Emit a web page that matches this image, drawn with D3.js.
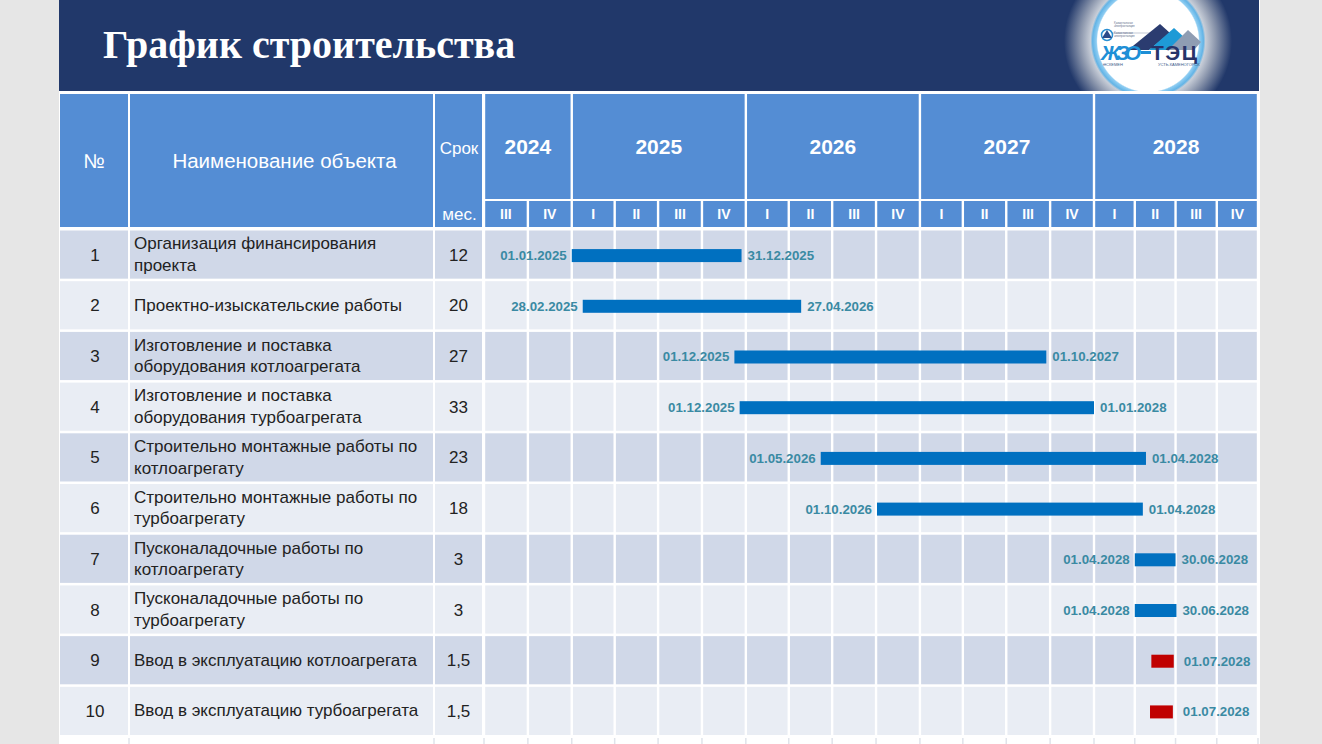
<!DOCTYPE html>
<html><head><meta charset="utf-8">
<script src="https://cdn.jsdelivr.net/npm/d3@7"></script>
<style>
html,body{margin:0;padding:0;background:#e6e6e6;overflow:hidden}
svg{display:block}
</style></head>
<body>
<script>
// ---------------- DATA ----------------
const titleText = "График строительства";
const years = [2024, 2025, 2026, 2027, 2028];
const quarterLabels = ["I", "II", "III", "IV"];
const rowNumbers = ["1","2","3","4","5","6","7","8","9","10"];
const taskNames = [
  ["Организация финансирования", "проекта"],
  ["Проектно-изыскательские работы"],
  ["Изготовление и поставка", "оборудования котлоагрегата"],
  ["Изготовление и поставка", "оборудования турбоагрегата"],
  ["Строительно монтажные работы по", "котлоагрегату"],
  ["Строительно монтажные работы по", "турбоагрегату"],
  ["Пусконаладочные работы по", "котлоагрегату"],
  ["Пусконаладочные работы по", "турбоагрегату"],
  ["Ввод в эксплуатацию котлоагрегата"],
  ["Ввод в эксплуатацию турбоагрегата"]
];
const durations = ["12","20","27","33","23","18","3","3","1,5","1,5"];
// bar extents as drawn in the picture
const barStart = ["2025-01-01","2025-01-24","2025-12-08","2025-12-19","2026-06-07","2026-10-03","2028-04-01","2028-04-01","2028-05-08","2028-05-05"];
const barEnd   = ["2025-12-23","2026-04-27","2027-09-23","2028-01-01","2028-04-26","2028-04-19","2028-07-01","2028-07-03","2028-06-27","2028-06-25"];
const startLabels = ["01.01.2025","28.02.2025","01.12.2025","01.12.2025","01.05.2026","01.10.2026","01.04.2028","01.04.2028","",""];
const endLabels   = ["31.12.2025","27.04.2026","01.10.2027","01.01.2028","01.04.2028","01.04.2028","30.06.2028","30.06.2028","01.07.2028","01.07.2028"];
const barKind = ["work","work","work","work","work","work","work","work","launch","launch"];
const headerNo = "№", headerName = "Наименование объекта", headerTerm1 = "Срок", headerTerm2 = "мес.";

// ---------------- LAYOUT ----------------
const W = 1322, H = 744;
const C = {
  page: "#e6e6e6", slide: "#ffffff", navy: "#21386a", head: "#548dd4",
  rowOdd: "#d0d8e8", rowEven: "#e9edf4", text: "#222222",
  bar: "#0070c0", launch: "#c00000", label: "#3a8aa3"
};
const parse = d3.timeParse("%Y-%m-%d");
const t0 = new Date(2024, 6, 1), tBreak = new Date(2028, 0, 1), t1 = new Date(2029, 0, 1);
const x = d3.scaleTime().domain([t0, tBreak, t1]).range([484, 1094, 1258]);
const y = d3.scaleBand().domain(d3.range(taskNames.length)).range([230.5, 735]).paddingInner(0.05);
const cols = [{x0: 60, x1: 128}, {x0: 130, x1: 433}, {x0: 435, x1: 482}];
const headTop = 94, yearBottom = 199, qTop = 201, headBottom = 227;
const gap = 1.2;

const svg = d3.select("body").append("svg").attr("width", W).attr("height", H)
  .attr("font-family", "'Liberation Sans', Arial, sans-serif");

svg.append("rect").attr("width", W).attr("height", H).attr("fill", C.page);
svg.append("rect").attr("x", 59).attr("y", 0).attr("width", 1201).attr("height", H).attr("fill", C.slide);

// title bar
const defs = svg.append("defs");
defs.append("clipPath").attr("id", "barClip").append("rect")
  .attr("x", 59).attr("y", 0).attr("width", 1200).attr("height", 91);
svg.append("rect").attr("x", 59).attr("y", 0).attr("width", 1200).attr("height", 91).attr("fill", C.navy);
svg.append("text").attr("x", 103).attr("y", 58).attr("fill", "#fff")
  .attr("font-family", "'Liberation Serif', 'Times New Roman', serif")
  .attr("font-weight", "bold").attr("font-size", 40).text(titleText);

// logo
const lg = defs.append("radialGradient").attr("id", "glow").attr("gradientUnits", "userSpaceOnUse")
  .attr("cx", 1148).attr("cy", 41).attr("r", 84);
[[0, "#ffffff"], [0.6, "#ffffff"], [0.615, "#8fcdf2"], [0.66, "#63b4e6"], [0.685, "#c8ced8"], [0.8, "#8d98ae"], [1, C.navy]]
  .forEach(([o, c]) => lg.append("stop").attr("offset", o).attr("stop-color", c));
const logo = svg.append("g").attr("clip-path", "url(#barClip)");
logo.append("circle").attr("cx", 1148).attr("cy", 41).attr("r", 84).attr("fill", "url(#glow)");
// emblem
logo.append("circle").attr("cx", 1107).attr("cy", 35).attr("r", 5.5).attr("fill", "#ffffff").attr("stroke", "#2a8fd3").attr("stroke-width", 1.5);
logo.append("path").attr("d", "M1107,30 L1112,38 L1102,38 Z").attr("fill", "#2a4a8a");
logo.append("line").attr("x1", 1113).attr("x2", 1170).attr("y1", 33).attr("y2", 33).attr("stroke", "#9aa6bb").attr("stroke-width", 0.6);
["Қазақстанская", "электростанция", "", "Казахстанская", "электростанция"].forEach((s, i) =>
  logo.append("text").attr("x", 1114).attr("y", 24 + i * 3.2).attr("font-size", 2.8).attr("fill", "#5a6a88").text(s));
// mountains
logo.append("path").attr("d", "M1128,50 L1160,24 L1170,33 L1149,50 Z").attr("fill", "#2b3c70");
logo.append("path").attr("d", "M1149,50 L1174,28 L1185,38 L1168,50 Z").attr("fill", "#1e9ad6");
logo.append("path").attr("d", "M1168,50 L1188,30 L1201,42 L1194,50 Z").attr("fill", "#8f9db3");
logo.append("text").attr("x", 1101).attr("y", 60).attr("font-size", 21).attr("font-weight", "bold").attr("font-style", "italic")
  .attr("fill", "#1e8fd6").attr("textLength", 40).text("ЖЗО");
logo.append("text").attr("x", 1151).attr("y", 60).attr("font-size", 21).attr("font-weight", "bold")
  .attr("fill", "#27346a").attr("textLength", 46).text("ТЭЦ");
logo.append("rect").attr("x", 1141).attr("y", 51).attr("width", 10).attr("height", 3).attr("fill", "#1e8fd6");
logo.append("text").attr("x", 1103).attr("y", 66).attr("font-size", 4).attr("fill", "#3a5a8a").text("ӨСКЕМЕН");
logo.append("text").attr("x", 1158).attr("y", 66).attr("font-size", 4).attr("fill", "#3a5a8a").text("УСТЬ-КАМЕНОГОРСК");

// ---------------- HEADER ----------------
const head = svg.append("g");
cols.forEach(c => head.append("rect").attr("x", c.x0).attr("y", headTop)
  .attr("width", c.x1 - c.x0).attr("height", headBottom - headTop).attr("fill", C.head));
head.append("text").attr("x", (cols[0].x0 + cols[0].x1) / 2).attr("y", 168).attr("text-anchor", "middle")
  .attr("fill", "#fff").attr("font-size", 20).text(headerNo);
head.append("text").attr("x", (cols[1].x0 + cols[1].x1) / 2 + 3).attr("y", 168).attr("text-anchor", "middle")
  .attr("fill", "#fff").attr("font-size", 20.5).text(headerName);
head.append("text").attr("x", (cols[2].x0 + cols[2].x1) / 2 + 0.5).attr("y", 154).attr("text-anchor", "middle")
  .attr("fill", "#fff").attr("font-size", 17).text(headerTerm1);
head.append("text").attr("x", (cols[2].x0 + cols[2].x1) / 2 + 1).attr("y", 220).attr("text-anchor", "middle")
  .attr("fill", "#fff").attr("font-size", 17).text(headerTerm2);

const yearSpans = years.map(yr => {
  const a = new Date(Math.max(new Date(yr, 0, 1), t0)), b = new Date(yr + 1, 0, 1);
  return {yr, x0: x(a), x1: x(b)};
});
head.selectAll("rect.year").data(yearSpans).join("rect").attr("class", "year")
  .attr("x", d => d.x0 + gap).attr("y", headTop).attr("width", d => d.x1 - d.x0 - 2 * gap)
  .attr("height", yearBottom - headTop).attr("fill", C.head);
head.selectAll("text.year").data(yearSpans).join("text").attr("class", "year")
  .attr("x", d => (d.x0 + d.x1) / 2).attr("y", 154).attr("text-anchor", "middle")
  .attr("fill", "#fff").attr("font-weight", "bold").attr("font-size", 21).text(d => d.yr);

const quarters = d3.timeMonth.every(3).range(t0, t1).map(d => ({
  d, x0: x(d), x1: x(d3.timeMonth.offset(d, 3)), lab: quarterLabels[Math.floor(d.getMonth() / 3)]
}));
head.selectAll("rect.q").data(quarters).join("rect").attr("class", "q")
  .attr("x", d => d.x0 + gap).attr("y", qTop).attr("width", d => d.x1 - d.x0 - 2 * gap)
  .attr("height", headBottom - qTop).attr("fill", C.head);
head.selectAll("text.q").data(quarters).join("text").attr("class", "q")
  .attr("x", d => (d.x0 + d.x1) / 2).attr("y", 219).attr("text-anchor", "middle")
  .attr("fill", "#fff").attr("font-weight", "bold").attr("font-size", 14).text(d => d.lab);

// ---------------- BODY ----------------
const body = svg.append("g");
const rows = body.selectAll("g.row").data(taskNames.map((n, i) => i)).join("g").attr("class", "row");
rows.each(function (i) {
  const g = d3.select(this);
  const fill = i % 2 === 0 ? C.rowOdd : C.rowEven;
  const y0 = y(i), bh = y.bandwidth(), cy = y0 + bh / 2;
  cols.forEach(c => g.append("rect").attr("x", c.x0).attr("y", y0).attr("width", c.x1 - c.x0).attr("height", bh).attr("fill", fill));
  g.selectAll("rect.cell").data(quarters).join("rect").attr("class", "cell")
    .attr("x", d => d.x0 + gap).attr("y", y0).attr("width", d => d.x1 - d.x0 - 2 * gap).attr("height", bh).attr("fill", fill);
  g.append("text").attr("x", (cols[0].x0 + cols[0].x1) / 2 + 1).attr("y", cy + 6).attr("text-anchor", "middle")
    .attr("fill", C.text).attr("font-size", 17).text(rowNumbers[i]);
  const lines = taskNames[i];
  lines.forEach((s, k) => g.append("text").attr("x", 134)
    .attr("y", cy + 5.5 + (k - (lines.length - 1) / 2) * 21.5)
    .attr("fill", C.text).attr("font-size", 17).text(s));
  g.append("text").attr("x", (cols[2].x0 + cols[2].x1) / 2).attr("y", cy + 6).attr("text-anchor", "middle")
    .attr("fill", C.text).attr("font-size", 17).text(durations[i]);

  const xs = x(parse(barStart[i])), xe = x(parse(barEnd[i]));
  const barH = 13;
  g.append("rect").attr("x", xs).attr("y", cy - barH / 2 + 1).attr("width", xe - xs).attr("height", barH)
    .attr("fill", barKind[i] === "launch" ? C.launch : C.bar);
  if (startLabels[i]) g.append("text").attr("x", xs - 5).attr("y", cy + 5.5).attr("text-anchor", "end")
    .attr("fill", C.label).attr("font-weight", "bold").attr("font-size", 13.3).text(startLabels[i]);
  if (endLabels[i]) g.append("text").attr("x", xe + (barKind[i] === "launch" ? 10 : 6)).attr("y", cy + 5.5)
    .attr("fill", C.label).attr("font-weight", "bold").attr("font-size", 13.3).text(endLabels[i]);
});

// stubs of the next (cut-off) row
const stubX = [cols[0].x1 + 1, cols[1].x1 + 1, ...quarters.map(q => q.x0), x(t1)];
body.selectAll("line.stub").data(stubX).join("line").attr("class", "stub")
  .attr("x1", d => d).attr("x2", d => d).attr("y1", 738).attr("y2", 744)
  .attr("stroke", "#dfe3ea").attr("stroke-width", 1.5);
</script>
</body></html>
